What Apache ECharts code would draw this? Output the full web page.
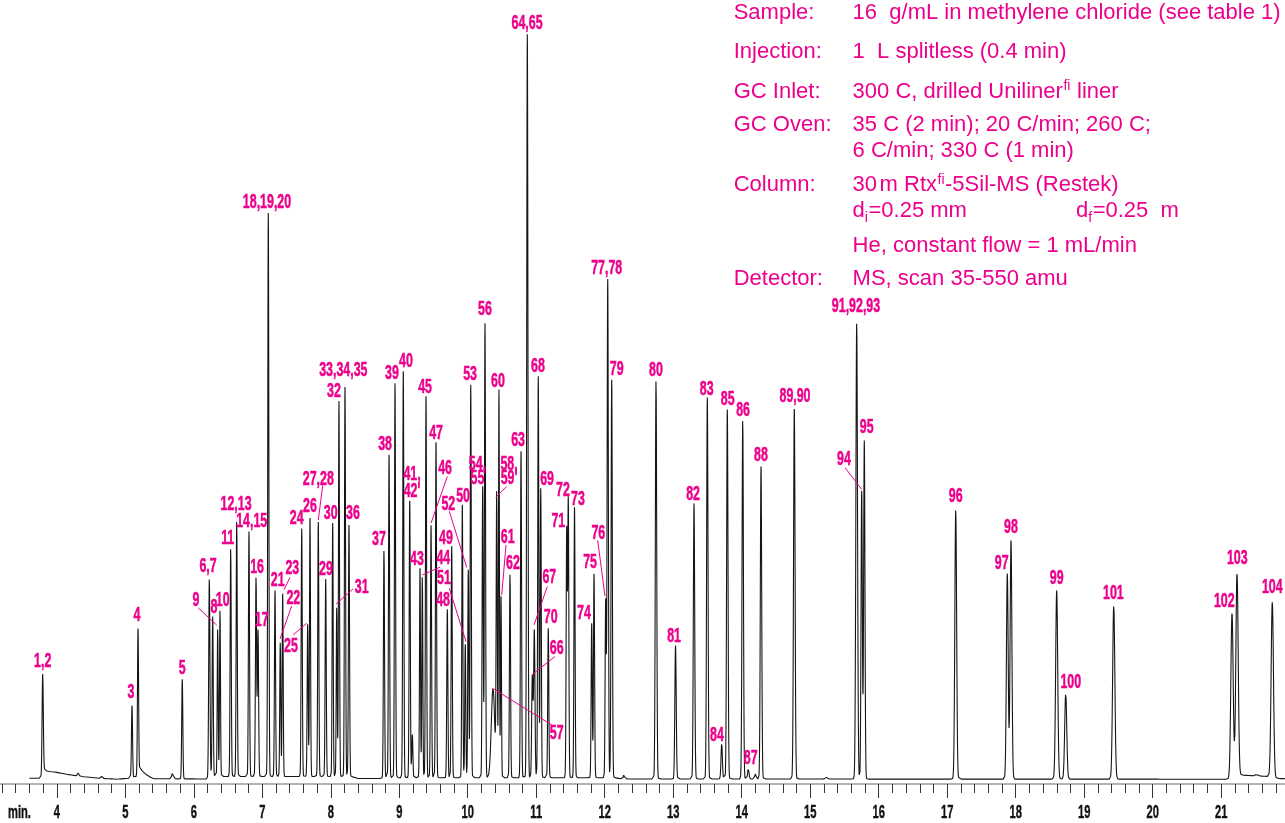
<!DOCTYPE html>
<html>
<head>
<meta charset="utf-8">
<script src="https://cdn.jsdelivr.net/npm/echarts@6/dist/echarts.min.js"></script>
<style>html,body{margin:0;padding:0;background:#fff;}#c{width:1285px;height:823px;}</style>
</head>
<body>
<div id="c"></div>
<script>
// ---------------- DATA ----------------
// retention time (min), peak height (signal units), peak width (sigma, min), peak label
const peakLabels = [
  "1,2", "", "", "3", "4", "", "5", "6,7", "8", "9",
  "10", "11", "12,13", "14,15", "16", "17", "18,19,20", "21", "22", "23",
  "24", "25", "26", "27,28", "29", "30", "31", "32", "33,34,35", "36",
  "37", "38", "39", "40", "41,\n42'", "", "43", "44", "45", "46",
  "47", "48", "49", "50", "51", "52", "53", "54,\n55", "56", "57",
  "58,\n59'", "60", "61", "62", "63", "64,65", "66", "67", "68", "69",
  "70", "71", "72", "73", "74", "75", "76", "77,78", "79", "",
  "80", "81", "82", "83", "84", "85", "86", "87", "", "88",
  "89,90", "", "91,92,93", "94", "95", "96", "97", "98", "99", "100",
  "101", "102", "103", "", "104"
];
const peakTimes = [
  3.794, 4.314, 4.656, 5.098, 5.186, 5.692, 5.832, 6.227, 6.276, 6.349,
  6.383, 6.539, 6.627, 6.806, 6.909, 6.938, 7.088, 7.186, 7.263, 7.298,
  7.576, 7.663, 7.697, 7.818, 7.926, 8.028, 8.087, 8.120, 8.208, 8.266,
  8.777, 8.851, 8.938, 9.059, 9.153, 9.191, 9.303, 9.337, 9.391, 9.464,
  9.537, 9.702, 9.766, 9.921, 9.964, 10.008, 10.044, 10.218, 10.252, 10.369,
  10.423, 10.456, 10.486, 10.617, 10.778, 10.870, 10.943, 10.972, 11.030, 11.066,
  11.176, 11.445, 11.468, 11.559, 11.810, 11.844, 12.014, 12.044, 12.102, 12.282,
  12.749, 13.034, 13.304, 13.498, 13.708, 13.790, 14.015, 14.097, 14.202, 14.282,
  14.768, 15.231, 15.679, 15.752, 15.790, 17.125, 17.878, 17.932, 18.599, 18.731,
  19.432, 21.159, 21.232, 21.520, 21.747
];
const peakHeights = [
  101, 3, 2, 72.5, 148.5, 6.5, 99.5, 199, 160, 148.5,
  167.5, 229, 256.5, 245, 200, 146.5, 563.5, 186, 135, 183,
  248, 153.5, 258.5, 254.5, 197.5, 253.5, 170.5, 375.5, 389.5, 251.5,
  229, 323, 394.5, 406.5, 277, 43.5, 209.5, 202.5, 381.5, 252.5,
  335.5, 168.5, 231.5, 273, 133.5, 208, 393, 291.5, 454.5, 89.5,
  279.5, 388, 181.5, 204.5, 326.5, 743.5, 102.5, 147.5, 401.5, 289.5,
  149.5, 247.5, 277.5, 270.5, 154.5, 204, 177.5, 498.5, 398, 4.5,
  399.5, 133.5, 275.5, 381.5, 35.5, 369.5, 359.7, 11, 5.5, 312.5,
  370, 2, 457, 288, 338.5, 269.5, 205.5, 238.5, 189, 86,
  174, 166, 204.5, 2, 175.5
];
const peakWidths = [
  0.009, 0.010, 0.010, 0.008, 0.008, 0.012, 0.008, 0.009, 0.008, 0.007,
  0.007, 0.008, 0.008, 0.008, 0.0085, 0.0085, 0.008, 0.008, 0.0075, 0.0075,
  0.008, 0.0075, 0.0075, 0.008, 0.008, 0.0075, 0.007, 0.0075, 0.008, 0.008,
  0.008, 0.008, 0.008, 0.008, 0.008, 0.008, 0.0072, 0.0072, 0.008, 0.008,
  0.008, 0.008, 0.008, 0.0075, 0.0075, 0.0075, 0.008, 0.008, 0.008, 0.025,
  0.0078, 0.0068, 0.0065, 0.008, 0.008, 0.009, 0.0095, 0.0095, 0.008, 0.008,
  0.008, 0.008, 0.008, 0.008, 0.008, 0.008, 0.008, 0.009, 0.009, 0.010,
  0.010, 0.010, 0.010, 0.010, 0.010, 0.010, 0.010, 0.010, 0.010, 0.010,
  0.011, 0.012, 0.012, 0.0095, 0.0095, 0.013, 0.013, 0.013, 0.015, 0.015,
  0.016, 0.017, 0.017, 0.015, 0.017
];
// baseline drift / tails (time, level)
const baselineTimes  = [3.60, 3.785, 3.81, 3.85, 3.90, 3.97, 4.145, 4.387, 4.63, 4.875, 5.10, 5.15, 5.19, 5.215, 5.24, 5.313, 5.41, 6.20, 6.24, 8.30, 8.40, 8.76, 8.80, 12.15, 12.25, 21.20, 21.26, 21.70, 21.80, 21.95];
const baselineLevels = [1.2, 1.2, 10, 8.5, 7.8, 7.5, 5.2, 2.8, 1.2, 0.3, 1.5, 2.8, 2.5, 12, 9, 4.5, 0.8, 0.5, 3, 3, 1, 1, 1.8, 1.8, 0.5, 0.3, 4.5, 3, 1, 0.8];
// x-axis tick labels (min)
const tickLabels = [4, 5, 6, 7, 8, 9, 10, 11, 12, 13, 14, 15, 16, 17, 18, 19, 20, 21];
// method text
const infoLabels = ["Sample:", "Injection:", "GC Inlet:", "GC Oven:", "", "Column:", "", "", "Detector:"];
const infoValues = [
  [["16  g/mL in methylene chloride (see table 1)"]],
  [["1  L splitless (0.4 min)"]],
  [["300 C, drilled Uniliner"], ["fi", "sup"], [" liner"]],
  [["35 C (2 min); 20 C/min; 260 C;"]],
  [["6 C/min; 330 C (1 min)"]],
  [["30"], ["m Rtx", "gap"], ["fi", "sup"], ["-5Sil-MS (Restek)"]],
  [["d"], ["i", "sub"], ["=0.25 mm"], ["d", "tab"], ["f", "sub"], ["=0.25  m"]],
  [["He, constant flow = 1 mL/min"]],
  [["MS, scan 35-550 amu"]]
];

// ---------------- LAYOUT (pixel offsets of annotations) ----------------
const MAGENTA = '#EC008C';
const labelLayout = {
  "1,2":[0,-13], "3":[-1,-12.7], "4":[-1,-12.7], "5":[0,-11], "6,7":[-1.3,-11.4], "8":[1.3,-9.4],
  "9":[-21.7,-27.7], "10":[2.7,-9], "11":[-3,-9.5], "12,13":[-0.7,-16], "14,15":[2.7,-10.4],
  "16":[1,-8.6], "17":[3.7,-9.4], "18,19,20":[-1.3,-11], "21":[2.7,-9.7], "22":[13,-43],
  "23":[9.6,-24.8], "24":[-5,-9.7], "25":[-16.7,23.2], "26":[0,-11.4], "27,28":[0,-43],
  "29":[0.3,-10], "30":[-2,-10], "31":[25,-19], "32":[-5,-10], "33,34,35":[-1.7,-16.8],
  "36":[4,-12], "37":[-5,-9.7], "38":[-4,-10.7], "39":[-3,-10], "40":[2.7,-10],
  "41,\n42'":[2.3,-18.2,17], "43":[-3,-9], "44":[21,-17], "45":[-1,-9], "46":[14,-57],
  "47":[0,-9], "48":[-4.3,-9], "49":[-5.7,-8], "50":[0.7,-8.7], "51":[-21.3,-65.3],
  "52":[-20,-65], "53":[-0.7,-10.7], "54,\n55":[-5.2,-14.5,13.7], "56":[0,-14], "57":[63.7,45],
  "58,\n59'":[12.3,-27,14], "60":[-1,-8.7], "61":[6.7,-58.7], "62":[3,-10], "63":[-3,-11],
  "64,65":[-0.3,-11], "66":[24.4,-27], "67":[15,-52.7], "68":[-0.3,-10], "69":[6.3,-9],
  "70":[2.4,-10.7], "71":[-8.4,-8.7], "72":[-5.3,-10], "73":[3.5,-8], "74":[-7.7,-10],
  "75":[-4,-11], "76":[-7.4,-67], "77,78":[-1,-11], "79":[5,-10.5], "80":[0,-9.3],
  "81":[-1.5,-9], "82":[-1,-9.5], "83":[-0.6,-8.5], "84":[-4.7,-8.5], "85":[0.4,-10],
  "86":[0.3,-9], "87":[2.4,-9.5], "88":[0,-11.4], "89,90":[0.7,-12.4], "91,92,93":[-0.7,-15.7],
  "94":[-17.7,-31.7], "95":[2.4,-13.3], "96":[0,-13.3], "97":[-5.6,-10], "98":[0,-13.3],
  "99":[0,-11.7], "100":[5,-10.6], "101":[-0.4,-11.7], "102":[-7.7,-11.6], "103":[0.3,-14], "104":[0,-14]
};
const leaderLines = {
  "9":[-1,-3,-19.4,-20], "22":[-0.3,-2.5,11.4,-35.5], "23":[1.3,-3.8,7.3,-16],
  "25":[-1,0.3,-14.4,11.8], "27,28":[0,-2,4.4,-36.5], "31":[-0.7,-2,16.3,-17],
  "44":[0,-0.3,17.7,-8], "46":[0,-2,16.3,-48.7], "51":[0.7,-2.7,-16,-56],
  "52":[-1.6,-2.4,-19,-58.4], "57":[-0.7,0,58.7,36.7], "58,\n59'":[-1,-0.7,10,-11.7],
  "61":[0.7,-1.3,5,-51.3], "66":[-0.6,-0.3,22.7,-18.7], "67":[-0.3,-5.3,13,-43.7],
  "76":[-0.7,-4.2,-8,-60], "94":[0,-1.7,-16.7,-23.4]
};
const infoBaselines = [20.7, 59.3, 99.3, 132.7, 159, 192.7, 219, 254, 287];
const INFO_LABEL_X = 733.7, INFO_VALUE_X = 852.6, INFO_TAB_X = 1076, INFO_FS = 22, SUB_FS = 14;
const FONT = '"Liberation Sans", Arial, Helvetica, sans-serif';

// ---------------- BUILD TRACE ----------------
function baselineAt(t) {
  if (t <= baselineTimes[0]) return baselineLevels[0];
  for (let i = 1; i < baselineTimes.length; i++) {
    if (t <= baselineTimes[i]) {
      const f = (t - baselineTimes[i-1]) / (baselineTimes[i] - baselineTimes[i-1]);
      return baselineLevels[i-1] + f * (baselineLevels[i] - baselineLevels[i-1]);
    }
  }
  return baselineLevels[baselineLevels.length - 1];
}
const ts = [];
for (let k = 0; ; k++) { const t = 3.60 + k * 0.002; if (t > 21.95) break; ts.push(t); }
peakTimes.forEach(t => ts.push(t));
ts.sort((a, b) => a - b);
const trace = ts.map(t => {
  let v = baselineAt(t);
  for (let i = 0; i < peakTimes.length; i++) {
    const d = (t - peakTimes[i]) / peakWidths[i];
    if (d > -8 && d < 8) v += peakHeights[i] * Math.exp(-0.5 * d * d);
  }
  return [t, v];
});
const labelData = [];
peakLabels.forEach((lab, i) => { if (lab) labelData.push([peakTimes[i], peakHeights[i] + baselineAt(peakTimes[i]), i]); });

// ---------------- INFO TEXT ----------------
const mctx = document.createElement('canvas').getContext('2d');
function tw(text, size) { mctx.font = size + 'px ' + FONT; return mctx.measureText(text).width; }
function txt(text, x, y, size) {
  return { type: 'text', x: x, y: y, silent: true,
    style: { text: text, fill: MAGENTA, fontSize: size, fontFamily: FONT, align: 'left', verticalAlign: 'middle' } };
}
const graphics = [];
infoLabels.forEach((lab, r) => {
  const base = infoBaselines[r];
  if (lab) graphics.push(txt(lab, INFO_LABEL_X, base - 0.3465 * INFO_FS, INFO_FS));
  let x = INFO_VALUE_X;
  infoValues[r].forEach(seg => {
    const s = seg[0], kind = seg[1] || 'n';
    if (kind === 'sup') {
      x += 0.5;
      graphics.push(txt(s, x, base - 8 - 0.3465 * SUB_FS, SUB_FS));
      x += tw(s, SUB_FS) + 0.5;
    } else if (kind === 'sub') {
      graphics.push(txt(s, x, base + 3.7 - 0.3465 * SUB_FS, SUB_FS));
      x += tw(s, SUB_FS) + 0.5;
    } else {
      if (kind === 'gap') x += 2.5;
      if (kind === 'tab') x = INFO_TAB_X;
      graphics.push(txt(s, x, base - 0.3465 * INFO_FS, INFO_FS));
      x += tw(s, INFO_FS);
    }
  });
});
graphics.push({ type: 'text', x: 8, y: 813, scaleX: 0.62, silent: true,
  style: { text: 'min.', fill: '#111', fontSize: 18, fontWeight: 'bold', fontFamily: FONT, align: 'left', verticalAlign: 'middle',
           stroke: '#111', lineWidth: 0.4 } });

// ---------------- CHART ----------------
const chart = echarts.init(document.getElementById('c'), null, { renderer: 'canvas', width: 1285, height: 823 });
const option = {
  animation: false,
  backgroundColor: '#ffffff',
  grid: { left: -11.69, right: -4.62, top: 20, bottom: 39, containLabel: false, outerBoundsMode: 'none' },
  xAxis: {
    type: 'value', min: 3, max: 22, interval: 1,
    axisLine: { show: true, onZero: false, lineStyle: { color: '#9a9a9a', width: 1.5 } },
    axisTick: { show: true, length: 14, lineStyle: { color: '#333', width: 1 } },
    minorTick: { show: true, splitNumber: 5, length: 9, lineStyle: { color: '#333', width: 1 } },
    axisLabel: { show: false },
    splitLine: { show: false }, minorSplitLine: { show: false }
  },
  yAxis: { type: 'value', min: -4.5, max: 759.5, show: false, splitLine: { show: false } },
  series: [
    {
      type: 'line', data: trace, showSymbol: false, symbol: 'none', silent: true, clip: true, z: 2,
      lineStyle: { color: '#151515', width: 1.1, join: 'bevel' }
    },
    {
      type: 'custom', coordinateSystem: 'cartesian2d', data: labelData, clip: false, silent: true, z: 5,
      encode: { x: 0, y: 1 },
      renderItem: function (params, api) {
        const i = api.value(2);
        const p = api.coord([api.value(0), api.value(1)]);
        const key = peakLabels[i];
        const lay = labelLayout[key] || [0, -11];
        const children = [];
        const lead = leaderLines[key];
        if (lead) children.push({ type: 'line', shape: { x1: p[0] + lead[0], y1: p[1] + lead[1], x2: p[0] + lead[2], y2: p[1] + lead[3] }, style: { stroke: MAGENTA, lineWidth: 1 } });
        children.push({ type: 'text', x: p[0] + lay[0], y: p[1] + lay[1], scaleX: 0.62,
          style: { text: key, fill: MAGENTA, fontSize: 20, fontWeight: 'bold', fontFamily: FONT, align: 'center', verticalAlign: 'middle', lineHeight: lay[2] || 20,
                   stroke: MAGENTA, lineWidth: 0.5 } });
        return { type: 'group', children: children };
      }
    },
    {
      type: 'custom', coordinateSystem: 'cartesian2d', data: tickLabels.map(v => [v, -4.5]), clip: false, silent: true, z: 5,
      encode: { x: 0, y: 1 },
      renderItem: function (params, api) {
        const p = api.coord([api.value(0), api.value(1)]);
        return { type: 'text', x: p[0], y: p[1] + 29, scaleX: 0.62,
          style: { text: String(api.value(0)), fill: '#111', fontSize: 18, fontWeight: 'bold', fontFamily: FONT, align: 'center', verticalAlign: 'middle',
                   stroke: '#111', lineWidth: 0.4 } };
      }
    }
  ],
  graphic: graphics
};
chart.setOption(option);
</script>
</body>
</html>
